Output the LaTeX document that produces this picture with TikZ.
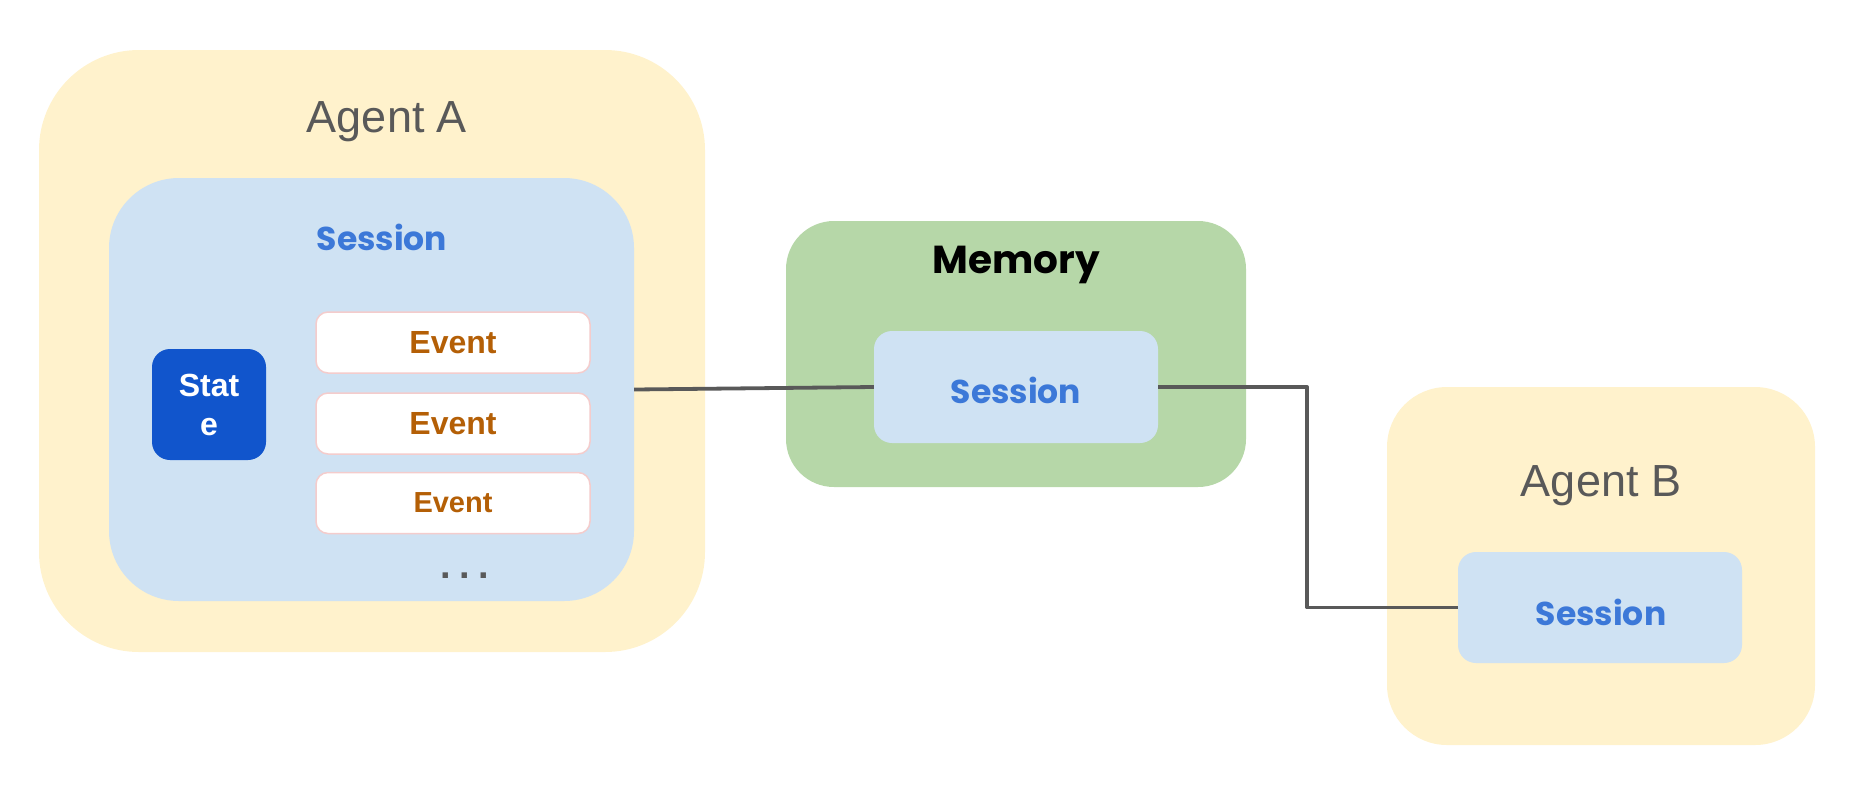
\documentclass[tikz,border=0pt]{standalone}
\usepackage{fontspec}
\setmainfont{Liberation Sans}
\newfontfamily\pop{Poppins}
\definecolor{agentfill}{HTML}{FFF2CC}
\definecolor{sessfill}{HTML}{CFE2F3}
\definecolor{memfill}{HTML}{B6D7A8}
\definecolor{statefill}{HTML}{1155CC}
\definecolor{sesstext}{HTML}{3C78D8}
\definecolor{eventtext}{HTML}{B45F06}
\definecolor{eventborder}{HTML}{F4CCCC}
\definecolor{graytext}{HTML}{595959}
\tikzset{
  box/.style={rectangle, inner sep=0pt, draw=none},
  agentbox/.style={box, fill=agentfill, rounded corners=#1},
  sessbox/.style={box, fill=sessfill, rounded corners=#1},
  membox/.style={box, fill=memfill, rounded corners=48pt},
  statebox/.style={box, fill=statefill, rounded corners=18pt, text=white, align=center,
    font=\fontsize{32}{39}\selectfont\bfseries},
  eventbox/.style={box, fill=white, draw=eventborder, line width=1.5pt, rounded corners=12pt,
    minimum width=274pt, minimum height=61pt, text=eventtext},
  agentlabel/.style={text=graytext, font=\fontsize{45}{45}\selectfont},
  sesslabel/.style={text=sesstext, font=\pop\bfseries\fontsize{33}{33}\selectfont},
  memlabel/.style={text=black, font=\pop\bfseries\fontsize{39}{39}\selectfont},
  link/.style={draw=graytext, line width=3.8pt, line join=round}
}
\begin{document}
\begin{tikzpicture}[x=1pt,y=1pt]
\useasboundingbox (0,0) rectangle (1862,-788);
% Agent A
\node[agentbox=100pt, minimum width=666pt, minimum height=602pt] (agentA) at (372,-351) {};
\node[agentlabel] (agentAlbl) at (387,-122) {Agent A};
\node[sessbox=70pt, minimum width=525pt, minimum height=423pt] (sessA) at (371.5,-389.5) {};
\node[sesslabel] (sessAlbl) at (382,-237) {Session};
\node[statebox, minimum width=114pt, minimum height=111pt] (state) at (209,-404.5) {Stat\\e};
\node[eventbox, font=\fontsize{32}{32}\selectfont\bfseries] (ev1) at (453,-342.5) {Event};
\node[eventbox, font=\fontsize{32}{32}\selectfont\bfseries] (ev2) at (453,-423.5) {Event};
\node[eventbox, font=\fontsize{29}{29}\selectfont\bfseries] (ev3) at (453,-503) {Event};
\node[text=graytext, font=\fontsize{38}{38}\selectfont\bfseries] (dots) at (465,-576) {.\hspace{8.5pt}.\hspace{8.5pt}.};
% Memory
\node[membox, minimum width=460pt, minimum height=266pt] (mem) at (1016,-354) {};
\node[memlabel] (memlbl) at (1016,-265) {Memory};
\node[sessbox=18pt, minimum width=284pt, minimum height=112pt] (memsess) at (1016,-387) {};
\node[sesslabel] (memsesslbl) at (1016,-390) {Session};
% Agent B
\node[agentbox=60pt, minimum width=428pt, minimum height=358pt] (agentB) at (1601,-566) {};
\node[agentlabel] (agentBlbl) at (1601,-486) {Agent B};
\node[sessbox=18pt, minimum width=284pt, minimum height=111pt] (sessB) at (1600,-607.5) {};
\node[sesslabel] (sessBlbl) at (1601,-612) {Session};
% connectors
\coordinate (bend) at (1307,-500);
\draw[link] (sessA.east) -- (memsess.west);
\draw[link] (memsess.east) -| (bend) |- (sessB.west);
\end{tikzpicture}
\end{document}
